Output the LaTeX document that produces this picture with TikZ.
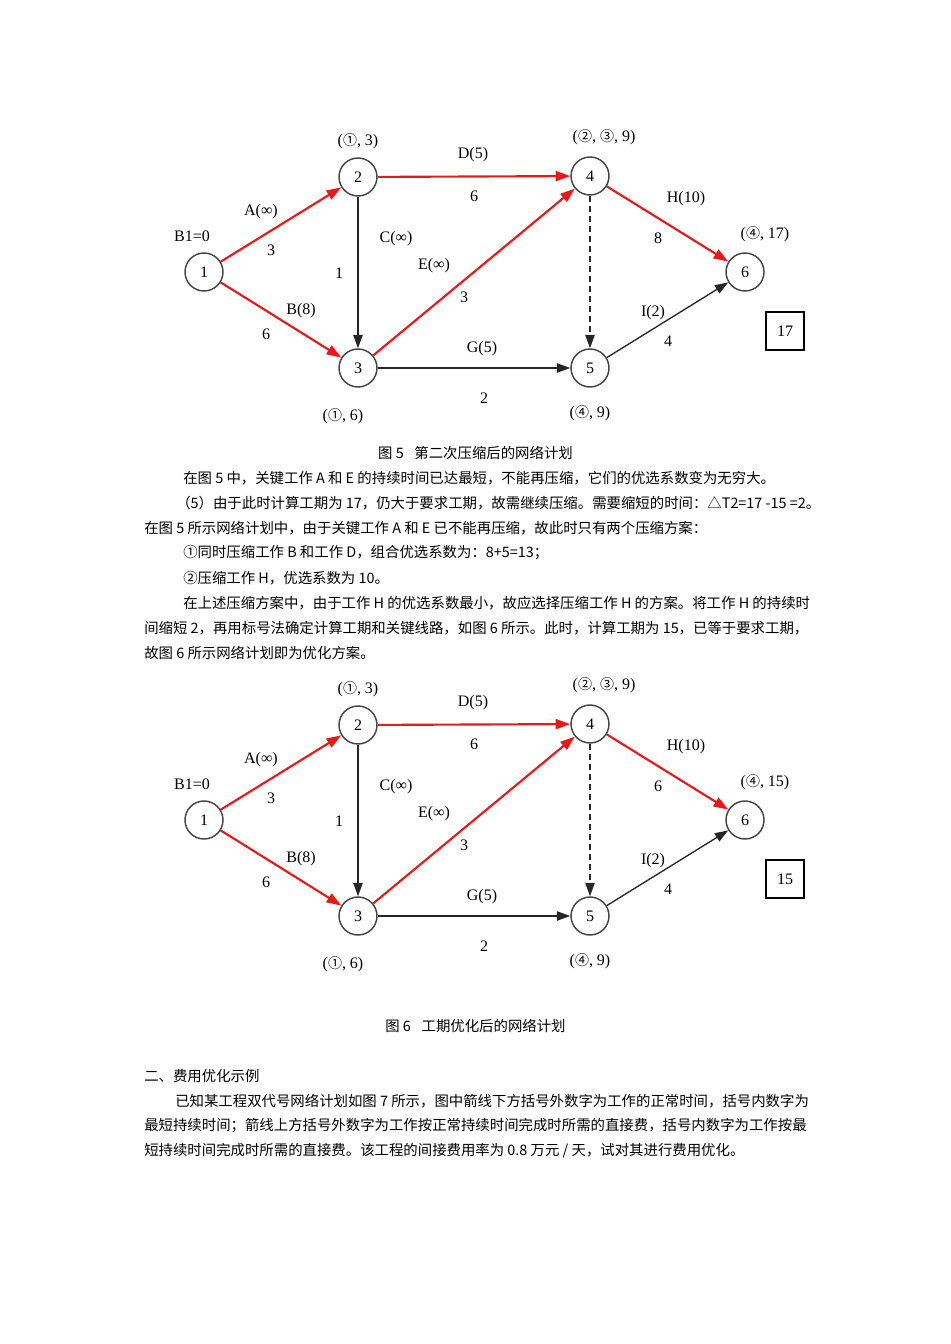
\documentclass[tikz,border=0pt]{standalone}
\usepackage{fontspec}
\setmainfont{Liberation Serif}
\newfontfamily\cjk{Noto Sans CJK SC}
\usetikzlibrary{arrows.meta}
\definecolor{critred}{RGB}{236,24,24}
\definecolor{ringgray}{RGB}{70,70,70}
\newcommand{\cn}[1]{{\cjk\fontsize{10.5}{10.5}\selectfont #1}}

\begin{document}
\begin{tikzpicture}[x=0.75pt,y=-0.75pt,
    event/.style={circle,draw=ringgray,line width=1.1pt,fill=white,minimum size=28.5pt,inner sep=0pt,font=\fontsize{12}{12}\selectfont},
    crit/.style={critred,line width=1.6pt,-{Triangle[length=11pt,width=7.5pt]}},
    plain/.style={black!85,line width=1pt,-{Triangle[length=10pt,width=7pt]}},
    lab/.style={font=\fontsize{12}{12}\selectfont,inner sep=0pt},
    body/.style={anchor=west,inner sep=0pt,font=\cjk\fontsize{10.8}{13}\selectfont},
    caption/.style={inner sep=0pt,font=\cjk\fontsize{10.8}{13}\selectfont}]
  \useasboundingbox (0,0) rectangle (950,1344);
  % the two network plans, before and after shortening H
  \foreach \dy/\hdur/\tot in {0/8/17, 548/6/15}{
    \begin{scope}[shift={(0,\dy)}]
      \node[event] (n1) at (204,272) {1};
      \node[event] (n2) at (358,177) {2};
      \node[event] (n3) at (358,368) {3};
      \node[event] (n4) at (590,176) {4};
      \node[event] (n5) at (590,368) {5};
      \node[event] (n6) at (745,272) {6};
      \node[draw,line width=0.9pt,minimum size=28.5pt,lab] (total) at (785,331) {\tot};
      \draw[crit] (n1) -- (n2);
      \draw[crit] (n1) -- (n3);
      \draw[crit] (n2) -- (n4);
      \draw[crit] (n3) -- (n4);
      \draw[crit] (n4) -- (n6);
      \draw[plain] (n2) -- (n3);
      \draw[plain] (n3) -- (n5);
      \draw[plain] (n5) -- (n6);
      \draw[plain,dash pattern=on 4.5pt off 3pt] (n4) -- (n5);
      % labels
      \node[lab] at (192,236) {B1=0};
      \node[lab] at (358,141) {(\cn{①}, 3)};
      \node[lab] at (343,416) {(\cn{①}, 6)};
      \node[lab] at (604,137) {(\cn{②}, \cn{③}, 9)};
      \node[lab] at (590,413) {(\cn{④}, 9)};
      \node[lab] at (765,234) {(\cn{④}, \tot)};
      \node[lab] at (261,212) {A(∞)};
      \node[lab] at (271,250) {3};
      \node[lab] at (301,311) {B(8)};
      \node[lab] at (266,334) {6};
      \node[lab] at (396,239) {C(∞)};
      \node[lab] at (339,273) {1};
      \node[lab] at (473,155) {D(5)};
      \node[lab] at (474,196) {6};
      \node[lab] at (434,266) {E(∞)};
      \node[lab] at (464,297) {3};
      \node[lab] at (482,349) {G(5)};
      \node[lab] at (484,398) {2};
      \node[lab] at (686,199) {H(10)};
      \node[lab] at (658,238) {\hdur};
      \node[lab] at (653,313) {I(2)};
      \node[lab] at (668,341) {4};
    \end{scope}
  }
  \node[caption] (cap5) at (475.5,453) {图 5\hspace{8pt}第二次压缩后的网络计划};
  \node[caption] (cap6) at (475.5,1026) {图 6\hspace{8pt}工期优化后的网络计划};
  % running text
  \node[body] at (183,478) {在图 5 中，关键工作 A 和 E 的持续时间已达最短，不能再压缩，它们的优选系数变为无穷大。};
  \node[body] at (176,503) {（5）由于此时计算工期为 17，仍大于要求工期，故需继续压缩。需要缩短的时间：△T2=17 -15 =2。};
  \node[body] at (144,528) {在图 5 所示网络计划中，由于关键工作 A 和 E 已不能再压缩，故此时只有两个压缩方案：};
  \node[body] at (183,553) {①同时压缩工作 B 和工作 D，组合优选系数为：8+5=13；};
  \node[body] at (183,578) {②压缩工作 H，优选系数为 10。};
  \node[body] at (183,603) {在上述压缩方案中，由于工作 H 的优选系数最小，故应选择压缩工作 H 的方案。将工作 H 的持续时};
  \node[body] at (144,628) {间缩短 2，再用标号法确定计算工期和关键线路，如图 6 所示。此时，计算工期为 15，已等于要求工期，};
  \node[body] at (144,653) {故图 6 所示网络计划即为优化方案。};
  \node[body] at (144,1076) {二、费用优化示例};
  \node[body] at (175,1101) {已知某工程双代号网络计划如图 7 所示，图中箭线下方括号外数字为工作的正常时间，括号内数字为};
  \node[body] at (144,1126) {最短持续时间；箭线上方括号外数字为工作按正常持续时间完成时所需的直接费，括号内数字为工作按最};
  \node[body] at (144,1151) {短持续时间完成时所需的直接费。该工程的间接费用率为 0.8 万元 / 天，试对其进行费用优化。};
\end{tikzpicture}
\end{document}
